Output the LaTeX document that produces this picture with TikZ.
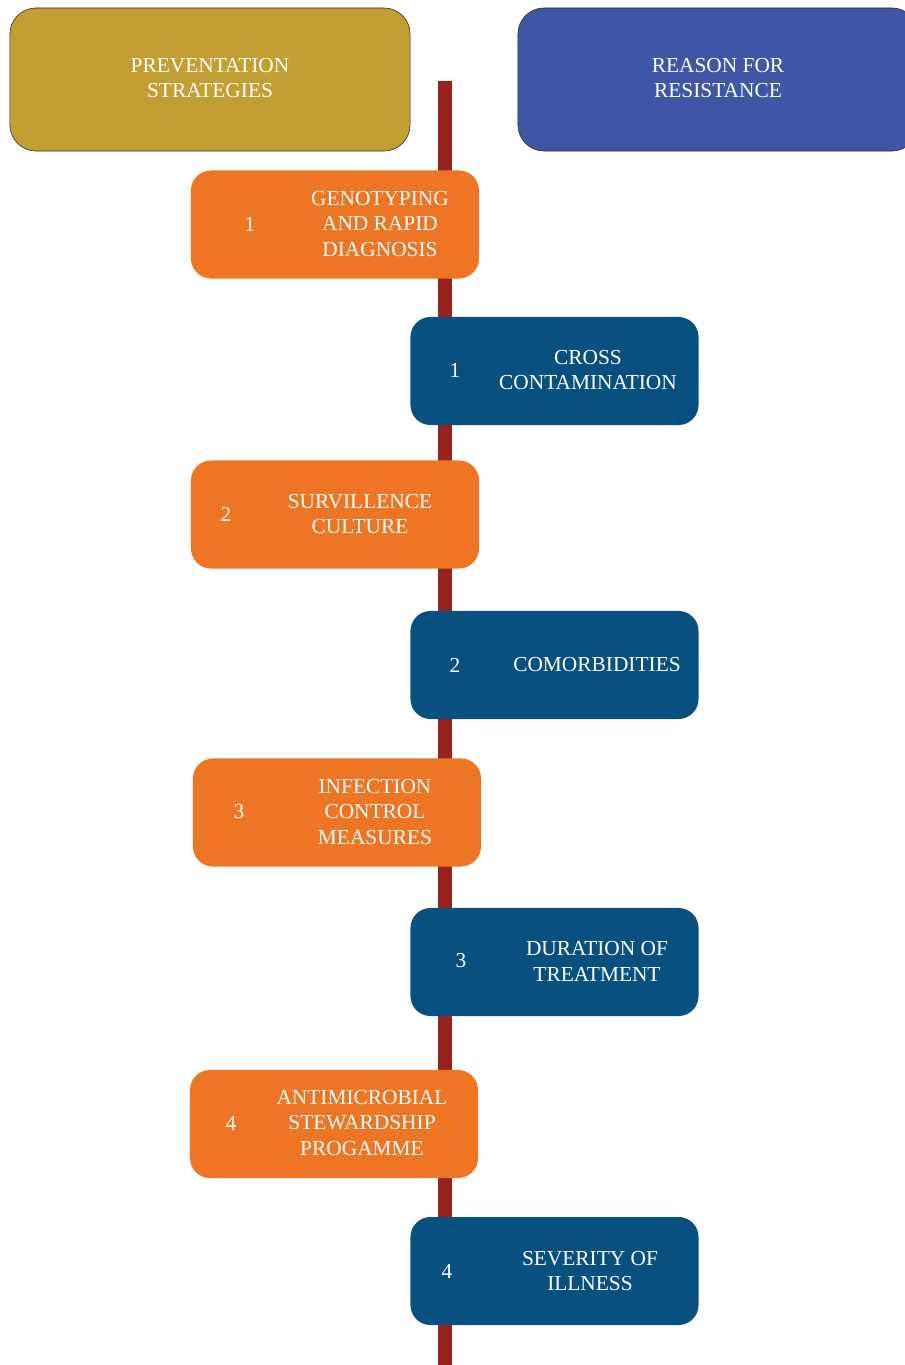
\documentclass[tikz,border=0pt]{standalone}
\usepackage{fontspec}
\setmainfont{Liberation Serif}
\definecolor{goldhead}{HTML}{C39E33}
\definecolor{bluehead}{HTML}{3E56A5}
\definecolor{prevorange}{HTML}{EE7523}
\definecolor{resblue}{HTML}{08507F}
\definecolor{barred}{HTML}{98221E}
\begin{document}
\begin{tikzpicture}[x=0.025cm, y=-0.025cm,
    head/.style={draw=black!85, thin, rounded corners=0.65cm,
      minimum width=10cm, minimum height=3.575cm},
    step box/.style={rounded corners=0.5cm, minimum width=7.2cm,
      minimum height=2.7cm},
    txt/.style={text=white, align=center,
      font=\fontsize{15.2}{18.4}\selectfont}]
  \useasboundingbox (0,0) rectangle (904,1365);
  % the timeline
  \coordinate (bartop) at (445,81); \coordinate (barbot) at (445,1365);
  \draw[barred, line width=0.35cm] (bartop) -- (barbot);

  % headings
  \node[head, fill=goldhead] (prev) at (210,79.5) {};
  \node[head, fill=bluehead] (res) at (718,79.5) {};
  \node[txt] (prevt) at (210,78) {PREVENTATION\\STRATEGIES};
  \node[txt] (rest) at (718,78) {REASON FOR\\RESISTANCE};

  % prevention strategies
  \begin{scope}[every node/.style={step box, fill=prevorange}]
    \node (p1) at (335,224.5) {}; \node (p2) at (335,514.5) {};
    \node (p3) at (337,812.5) {}; \node (p4) at (334,1124) {};
  \end{scope}
  \begin{scope}[every node/.style={txt}]
    \node (p1n) at (250,224) {1}; \node (p1t) at (380,224)
    {GENOTYPING\\AND RAPID\\DIAGNOSIS};
    \node (p2n) at (226,514) {2}; \node (p2t) at (360,514)
    {SURVILLENCE\\CULTURE};
    \node (p3n) at (239,812) {3}; \node (p3t) at (375,812)
    {INFECTION\\CONTROL\\MEASURES};
    \node (p4n) at (231,1123) {4}; \node (p4t) at (362,1123)
    {ANTIMICROBIAL\\STEWARDSHIP\\PROGAMME};
  \end{scope}

  % reasons for resistance
  \begin{scope}[every node/.style={step box, fill=resblue}]
    \node (r1) at (554.5,371) {}; \node (r2) at (554.5,665) {};
    \node (r3) at (554.5,962) {}; \node (r4) at (554.5,1271) {};
  \end{scope}
  \begin{scope}[every node/.style={txt}]
    \node (r1n) at (455,370) {1}; \node (r1t) at (588,370)
    {CROSS\\CONTAMINATION};
    \node (r2n) at (455,665) {2}; \node (r2t) at (597,665)
    {COMORBIDITIES};
    \node (r3n) at (461,961) {3}; \node (r3t) at (597,961)
    {DURATION OF\\TREATMENT};
    \node (r4n) at (447,1271) {4}; \node (r4t) at (590,1271)
    {SEVERITY OF\\ILLNESS};
  \end{scope}
\end{tikzpicture}
\end{document}
